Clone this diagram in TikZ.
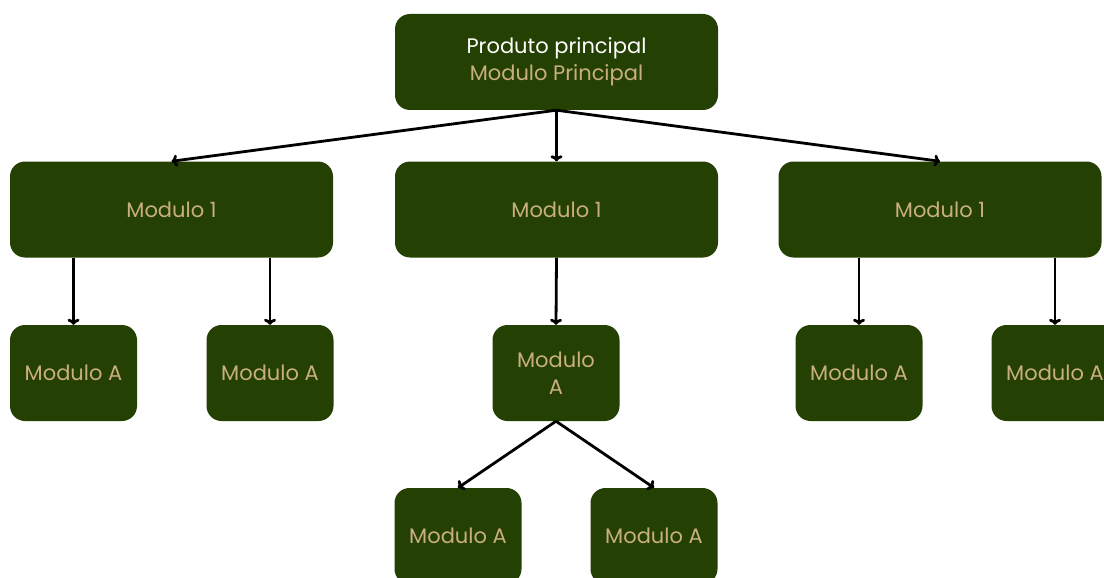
\documentclass[tikz,border=0pt]{standalone}
\usepackage{fontspec}
\setmainfont{Poppins}
\usetikzlibrary{arrows.meta}
\definecolor{boxgreen}{HTML}{244003}
\definecolor{boxtan}{HTML}{C9AE80}
\tikzset{
  modbox/.style={fill=boxgreen, rounded corners=15pt, text=boxtan, align=center,
    font=\fontsize{21}{27}\selectfont, inner sep=0pt},
  bigbox/.style={modbox, minimum width=323pt, minimum height=96pt},
  smallbox/.style={modbox, minimum width=127pt, minimum height=96pt},
  link/.style={-{To[length=6pt,width=12pt]}, line width=2.8pt, black}
}
\begin{document}
\begin{tikzpicture}[x=1pt,y=-1pt]

    \useasboundingbox (0,0) rectangle (1104,578);
    \clip (0,0) rectangle (1104,578);

    %draw main box
    \node[bigbox] (top) at (556.5,62) {\textcolor{white}{Produto principal}\\Modulo Principal};

    %draw first level
    \node[bigbox] (modl) at (171.5,209.5) {Modulo 1};
    \node[bigbox] (modm) at (556.5,209.5) {Modulo 1};
    \node[bigbox] (modr) at (940,209.5) {Modulo 1};

    %draw second level
    \node[smallbox] (subla) at (73.5,373) {Modulo A};
    \node[smallbox] (sublb) at (270,373) {Modulo A};
    \node[smallbox] (subm) at (556,373) {Modulo\\A};
    \node[smallbox] (subra) at (859,373) {Modulo A};
    \node[smallbox] (subrb) at (1055,373) {Modulo A};

    %draw third level
    \node[smallbox] (lowa) at (458,536) {Modulo A};
    \node[smallbox] (lowb) at (654,536) {Modulo A};

    %draw arrows
    \draw[link] (top.south) -- (modl.north);
    \draw[link] (top.south) -- (modm.north);
    \draw[link] (top.south) -- (modr.north);

    \draw[link] (modl.south -| subla.north) -- (subla.north);
    \draw[link] (modl.south -| sublb.north) -- (sublb.north);
    \draw[link] (modm.south) -- (subm.north);
    \draw[link] (modr.south -| subra.north) -- (subra.north);
    \draw[link] (modr.south -| subrb.north) -- (subrb.north);

    \draw[link] (subm.south) -- (lowa.north);
    \draw[link] (subm.south) -- (lowb.north);

\end{tikzpicture}
\end{document}
